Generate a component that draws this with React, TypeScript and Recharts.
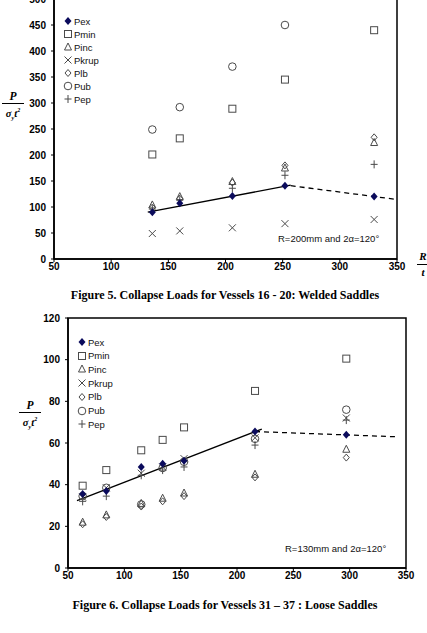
import React from 'react';
import { ScatterChart, Scatter, XAxis, YAxis, ReferenceArea } from 'recharts';

// Figure 5: welded saddles
const weldedRt = [136, 160, 206, 252, 330];
const weldedPex = [90, 107, 121, 141, 120];
const weldedPmin = [201, 232, 289, 345, 440];
const weldedPinc = [104, 120, 149, 175, 224];
const weldedPkrup = [49, 54, 60, 68, 76];
const weldedPlb = [99, 116, 147, 180, 234];
const weldedPub = [249, 292, 370, 450, null];
const weldedPep = [96, 113, 136, 161, 182];
const weldedFitX = [132, 257];
const weldedFitY = [90, 142];
const weldedDashX = [257, 348];
const weldedDashY = [141, 115];

// Figure 6: loose saddles
const looseRt = [63, 84, 115, 134, 153, 216, 297];
const loosePex = [35.5, 37, 48.5, 50, 51.5, 65.5, 64];
const loosePmin = [39.5, 47, 56.5, 61.5, 67.5, 85, 100.5];
const loosePinc = [22, 25.5, 31, 33.5, 36, 45, 57];
const loosePkrup = [34, 38.5, 45.5, 48.5, 52.5, 62.5, 72];
const loosePlb = [21, 24.5, 29.5, 32, 34.5, 43.5, 53];
const loosePub = [34.5, 38.5, 30.5, 48, 51, 62, 76];
const loosePep = [32, 34.5, 44.5, 47, 48.5, 59, 71];
const looseFitX = [58, 222];
const looseFitY = [32.3, 66.7];
const looseDashX = [216, 341];
const looseDashY = [65.5, 63];

const seriesNames = ['Pex', 'Pmin', 'Pinc', 'Pkrup', 'Plb', 'Pub', 'Pep'];
const xTicks = [50, 100, 150, 200, 250, 300, 350];
const weldedYTicks = [0, 50, 100, 150, 200, 250, 300, 350, 400, 450, 500];
const looseYTicks = [0, 20, 40, 60, 80, 100, 120];

const pts = (xs: number[], ys: (number | null)[]) =>
  xs.map((x, i) => ({ x, y: ys[i] })).filter((p) => p.y !== null);

const GREY = '#4a4a4a';
const NAVY = '#0b0b5c';

function Marker({ kind, cx, cy }: { kind: string; cx: number; cy: number }) {
  switch (kind) {
    case 'Pex':
      return <polygon points={`${cx},${cy - 4} ${cx + 3.5},${cy} ${cx},${cy + 4} ${cx - 3.5},${cy}`} fill={NAVY} />;
    case 'Pmin':
      return <rect x={cx - 3.5} y={cy - 3.5} width={7} height={7} fill="none" stroke={GREY} strokeWidth={1} />;
    case 'Pinc':
      return <polygon points={`${cx},${cy - 4} ${cx + 3.5},${cy + 3} ${cx - 3.5},${cy + 3}`} fill="none" stroke={GREY} strokeWidth={1} />;
    case 'Pkrup':
      return (
        <g stroke={GREY} strokeWidth={1}>
          <line x1={cx - 3.5} y1={cy - 3.5} x2={cx + 3.5} y2={cy + 3.5} />
          <line x1={cx - 3.5} y1={cy + 3.5} x2={cx + 3.5} y2={cy - 3.5} />
        </g>
      );
    case 'Plb':
      return <polygon points={`${cx},${cy - 3.5} ${cx + 3},${cy} ${cx},${cy + 3.5} ${cx - 3},${cy}`} fill="none" stroke={GREY} strokeWidth={1} />;
    case 'Pub':
      return <circle cx={cx} cy={cy} r={3.8} fill="none" stroke={GREY} strokeWidth={1} />;
    case 'Pep':
      return (
        <g stroke={GREY} strokeWidth={1}>
          <line x1={cx - 3.5} y1={cy} x2={cx + 3.5} y2={cy} />
          <line x1={cx} y1={cy - 4} x2={cx} y2={cy + 4} />
        </g>
      );
    default:
      return null;
  }
}

const tickStyle = { fill: '#000', fontSize: 10, fontWeight: 700, fontFamily: '"Liberation Sans", Arial, sans-serif' };

function LegendBox({ left, top, step }: { left: number; top: number; step: number }) {
  return (
    <div style={{ position: 'absolute', left, top }}>
      {seriesNames.map((name, i) => (
        <div key={name} style={{ position: 'absolute', left: 0, top: i * step - 7, height: 14, display: 'flex', alignItems: 'center', whiteSpace: 'nowrap' }}>
          <svg width={10} height={14} style={{ display: 'block' }}>
            <Marker kind={name} cx={5} cy={7} />
          </svg>
          <span style={{ fontSize: 9.5, marginLeft: 1, color: '#111' }}>{name}</span>
        </div>
      ))}
    </div>
  );
}

function YLabel({ left, top }: { left: number; top: number }) {
  return (
    <div style={{ position: 'absolute', left, top, width: 22, textAlign: 'center', fontFamily: '"Liberation Serif", serif', fontWeight: 700, fontStyle: 'italic', color: '#000' }}>
      <div style={{ fontSize: 11.5, lineHeight: '11px' }}>P</div>
      <div style={{ borderTop: '1px solid #000', margin: '1px 0' }} />
      <div style={{ fontSize: 10.5, lineHeight: '11px' }}>
        σ<sub style={{ fontSize: 6 }}>y</sub>t<sup style={{ fontSize: 6 }}>2</sup>
      </div>
    </div>
  );
}

function Panel({
  rt, series, fitX, fitY, dashX, dashY, yMax, yTicks, yAxisWidth, height, right,
}: {
  rt: number[]; series: (number | null)[][]; fitX: number[]; fitY: number[]; dashX: number[]; dashY: number[];
  yMax: number; yTicks: number[]; yAxisWidth: number; height: number; right: number;
}) {
  return (
    <ScatterChart width={427} height={height} margin={{ top: 10, right, bottom: 0, left: 0 }}>
      <XAxis
        type="number" dataKey="x" domain={[50, 350]} ticks={xTicks} height={20}
        axisLine={{ stroke: '#000', strokeWidth: 1.5 }} tickLine={{ stroke: '#000' }} tickSize={3} tickMargin={1}
        tick={tickStyle} allowDataOverflow
      />
      <YAxis
        type="number" dataKey="y" domain={[0, yMax]} ticks={yTicks} width={yAxisWidth}
        axisLine={{ stroke: '#000', strokeWidth: 1.5 }} tickLine={{ stroke: '#000' }} tickSize={3} tickMargin={5}
        tick={tickStyle} allowDataOverflow
      />
      <ReferenceArea x1={50} x2={350} y1={0} y2={yMax} fill="none" stroke="#000" strokeWidth={1.5} ifOverflow="visible" />
      <Scatter data={pts(fitX, fitY)} line={{ stroke: '#000', strokeWidth: 1.3 }} shape={() => <g />} isAnimationActive={false} />
      <Scatter data={pts(dashX, dashY)} line={{ stroke: '#000', strokeWidth: 1.3, strokeDasharray: '5 4' }} shape={() => <g />} isAnimationActive={false} />
      {seriesNames
        .map((name, k) => ({ name, k }))
        .reverse()
        .map(({ name, k }) => (
          <Scatter
            key={name}
            name={name}
            data={pts(rt, series[k])}
            isAnimationActive={false}
            shape={(p: any) => <Marker kind={name} cx={p.cx} cy={p.cy} />}
          />
        ))}
    </ScatterChart>
  );
}

const captionStyle: React.CSSProperties = {
  position: 'absolute', left: 0, width: 450, textAlign: 'center',
  fontFamily: '"Liberation Serif", "Times New Roman", serif', fontWeight: 700, fontSize: 12, color: '#000',
};

const noteStyle: React.CSSProperties = {
  position: 'absolute', fontSize: 9.5, color: '#111', whiteSpace: 'nowrap',
};

export default function App() {
  return (
    <div style={{ position: 'absolute', left: 0, top: 0, width: 427, height: 633, overflow: 'hidden', background: '#fff', fontFamily: '"Liberation Sans", Arial, sans-serif' }}>
      <div style={{ position: 'absolute', left: 0, top: -11 }}>
        <Panel
          rt={weldedRt}
          series={[weldedPex, weldedPmin, weldedPinc, weldedPkrup, weldedPlb, weldedPub, weldedPep]}
          fitX={weldedFitX} fitY={weldedFitY} dashX={weldedDashX} dashY={weldedDashY}
          yMax={500} yTicks={weldedYTicks} yAxisWidth={54} height={290} right={30}
        />
      </div>
      <LegendBox left={63} top={21} step={13} />
      <YLabel left={2} top={91} />
      <div style={{ ...noteStyle, left: 278, top: 233 }}>R=200mm and 2α=120°</div>
      <div style={{ position: 'absolute', left: 417, top: 251, width: 12, textAlign: 'center', fontFamily: '"Liberation Serif", serif', fontWeight: 700, fontStyle: 'italic', fontSize: 11 }}>
        <div style={{ lineHeight: '11px' }}>R</div>
        <div style={{ borderTop: '1px solid #000', margin: '2px 0' }} />
        <div style={{ lineHeight: '11px' }}>t</div>
      </div>
      <div style={{ ...captionStyle, top: 288 }}>Figure 5. Collapse Loads for Vessels 16 - 20: Welded Saddles</div>

      <div style={{ position: 'absolute', left: 0, top: 308 }}>
        <Panel
          rt={looseRt}
          series={[loosePex, loosePmin, loosePinc, loosePkrup, loosePlb, loosePub, loosePep]}
          fitX={looseFitX} fitY={looseFitY} dashX={looseDashX} dashY={looseDashY}
          yMax={120} yTicks={looseYTicks} yAxisWidth={68} height={280} right={21}
        />
      </div>
      <LegendBox left={77} top={342} step={13.7} />
      <YLabel left={19} top={400} />
      <div style={{ ...noteStyle, left: 285, top: 543 }}>R=130mm and 2α=120°</div>
      <div style={{ ...captionStyle, top: 598 }}>Figure 6. Collapse Loads for Vessels 31 – 37 : Loose Saddles</div>
    </div>
  );
}
